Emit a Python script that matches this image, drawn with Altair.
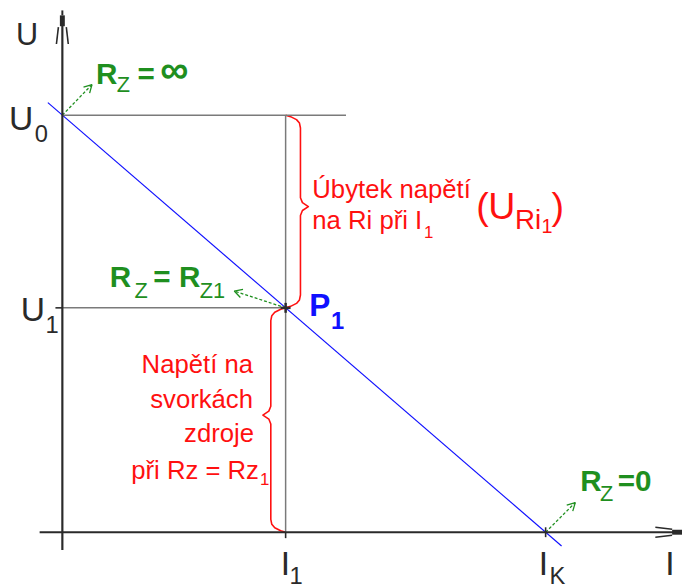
import math
import altair as alt
import pandas as pd

# ---- values (arbitrary units) ----
current_names = ["I1", "IK"]
current_values = [4.62, 10.0]
voltage_names = ["U0", "U1"]
voltage_values = [10.0, 5.38]
load_line_I = [-0.3, 10.33]
load_line_U = [10.3, -0.33]

I1, IK = current_values
U0, U1 = voltage_values

W, H = 683, 580
PXX, PXY = 48.9, 42.2          # screen pixels per unit of I / U
OX, OY = 55, 527               # origin position inside the plot area
xs = alt.Scale(domain=[-OX / PXX, (W - OX) / PXX], nice=False, zero=False)
ys = alt.Scale(domain=[-(H - OY) / PXY, OY / PXY], nice=False, zero=False)
FONT = "Liberation Sans"

GREEN = "#1f8f1f"
RED = "#ff1010"
BLUE = "#1010ff"
GRAY = "#7a7a7a"
BLACK = "#2a2a2a"


def off(i, u, dx=0.0, dy=0.0):
    """data point shifted by dx (right) / dy (down) screen pixels"""
    return (i + dx / PXX, u - dy / PXY)


segs = []


def seg(p, q, color, w):
    segs.append(dict(x=p[0], y=p[1], x2=q[0], y2=q[1], c=color, w=w))


# helper lines
seg((0, U0), off(0, U0, 287, 0), GRAY, 1.5)
seg((0, U1), (I1, U1), GRAY, 1.5)
seg((I1, 0), (I1, U0), GRAY, 1.5)

# axes with arrows
seg(off(0, 0, -23, 0), off(0, 0, 618, 0), BLACK, 2.2)
seg(off(0, 0, 0, 18), off(0, 0, 0, -513), BLACK, 2.2)
seg(off(0, 0, 0, -512), off(0, 0, 0, -523), BLACK, 5)
seg(off(0, 0, 0, -523), off(0, 0, 0, -528), BLACK, 2)
seg(off(0, 0, -4, -511), off(0, 0, -6, -494), BLACK, 1.6)
seg(off(0, 0, 4, -511), off(0, 0, 6, -494), BLACK, 1.6)
seg(off(0, 0, 617, 0), off(0, 0, 627, 0), BLACK, 5)
seg(off(0, 0, 617, -3), off(0, 0, 600, -5), BLACK, 1.6)
seg(off(0, 0, 617, 3), off(0, 0, 600, 5), BLACK, 1.6)

# ticks / points
seg(off(0, U1, -7, 0), (0, U1), BLACK, 1.6)
seg((I1, 0), off(I1, 0, 0, 6), BLACK, 1.6)
seg(off(IK, 0, 0, -5), off(IK, 0, 0, 5), BLACK, 1.6)
seg(off(I1, U1, -5, 0), off(I1, U1, 5, 0), BLACK, 2.5)
seg(off(I1, U1, 0, -5), off(I1, U1, 0, 5), BLACK, 2.5)

# green load arrows
arrows = [((0, U0), 30, -31), ((I1, U1), -52, -17), ((IK, 0), 30, -30)]
dashed = []
for (i, u), dx, dy in arrows:
    tip = off(i, u, dx, dy)
    dashed.append(dict(x=i, y=u, x2=tip[0], y2=tip[1]))
    L = math.hypot(dx, dy)
    bx, by = -dx / L, -dy / L
    for a in (0.5, -0.5):
        rx = bx * math.cos(a) - by * math.sin(a)
        ry = bx * math.sin(a) + by * math.cos(a)
        seg(tip, off(i, u, dx + 9 * rx, dy + 9 * ry), GREEN, 1.3)

seg_df = pd.DataFrame(segs)
dash_df = pd.DataFrame(dashed)


# braces
def brace(i, u_top, u_bot, s, name):
    h = (u_top - u_bot) * PXY
    m = h / 2 - 5
    prof = [(0, 0), (5, 1.5), (11, 4.5), (14, 8), (15, 13), (15, m - 9), (17, m - 4),
            (23, m), (17, m + 4), (15, m + 9), (15, h - 13), (14, h - 8), (11, h - 4.5),
            (5, h - 1.5), (0, h)]
    rows = []
    for k, (px, py) in enumerate(prof):
        p = off(i, u_top, s * px, py)
        rows.append(dict(x=p[0], y=p[1], g=name, o=k))
    return rows


brace_df = pd.DataFrame(brace(I1, U0, U1, 1, "upper") + brace(I1, U1, 0, -1, "lower"))
line_df = pd.DataFrame(dict(I=load_line_I, U=load_line_U))

# texts: (anchor, text, size, color, weight, align)
texts = []


def txt(p, t, size, color, weight="normal", align="left"):
    texts.append(dict(x=p[0], y=p[1], t=t, s=size, c=color, wt=weight, al=align))


# axis labels
txt(off(0, 0, -47, -493), "U", 31, BLACK)
txt(off(0, U0, -54, 15), "U", 34, BLACK)
txt(off(0, U0, -28, 27), "0", 24, BLACK)
txt(off(0, U1, -42, 13), "U", 34, BLACK)
txt(off(0, U1, -17, 25), "1", 24, BLACK)
txt(off(I1, 0, -5, 43), "I", 34, BLACK)
txt(off(I1, 0, 4, 52), "1", 24, BLACK)
txt(off(IK, 0, -7, 43), "I", 34, BLACK)
txt(off(IK, 0, 4, 52), "K", 24, BLACK)
txt(off(0, 0, 610, 43), "I", 34, BLACK)

# green load labels
txt(off(0, U0, 34, -32), "R", 30, GREEN, "bold")
txt(off(0, U0, 55, -23), "Z", 22, GREEN)
txt(off(0, U0, 76, -32), "=", 30, GREEN, "bold")
txt(off(0, U0, 99, -33), "∞", 40, GREEN, "bold")
txt(off(I1, U1, -178, -21), "R", 30, GREEN, "bold")
txt(off(I1, U1, -153, -10), "Z", 22, GREEN)
txt(off(I1, U1, -134, -21), "=", 30, GREEN, "bold")
txt(off(I1, U1, -108, -21), "R", 30, GREEN, "bold")
txt(off(I1, U1, -87, -10), "Z1", 22, GREEN)
txt(off(IK, 0, 35, -42), "R", 30, GREEN, "bold")
txt(off(IK, 0, 55, -32), "Z", 22, GREEN)
txt(off(IK, 0, 73, -42), "=0", 30, GREEN, "bold")

# operating point
txt(off(I1, U1, 24, 8), "P", 32, BLUE, "bold")
txt(off(I1, U1, 46, 21), "1", 24, BLUE, "bold")

# voltage drop on Ri
txt(off(I1, U0, 27, 84), "Úbytek napětí", 26, RED)
txt(off(I1, U0, 27, 115), "na Ri při I", 26, RED)
txt(off(I1, U0, 140, 124), "1", 17, RED)
txt(off(I1, U0, 193, 105), "(", 38, RED)
txt(off(I1, U0, 205, 105), "U", 38, RED)
txt(off(I1, U0, 232, 115), "Ri", 28, RED)
txt(off(I1, U0, 259, 119), "1", 20, RED)
txt(off(I1, U0, 269, 105), ")", 38, RED)

# terminal voltage
txt(off(I1, U1, -33, 66), "Napětí na", 26, RED, align="right")
txt(off(I1, U1, -33, 101), "svorkách", 26, RED, align="right")
txt(off(I1, U1, -32, 136), "zdroje", 26, RED, align="right")
txt(off(I1, U1, -27, 173), "při Rz = Rz", 26, RED, align="right")
txt(off(I1, U1, -26, 179), "1", 17, RED)

text_df = pd.DataFrame(texts)

X = lambda f: alt.X(f, type="quantitative", scale=xs, axis=None)
Y = lambda f: alt.Y(f, type="quantitative", scale=ys, axis=None)

layers = []
layers.append(
    alt.Chart(line_df).mark_line(color=BLUE, strokeWidth=1.2).encode(x=X("I"), y=Y("U"))
)
layers.append(
    alt.Chart(brace_df).mark_line(color=RED, strokeWidth=1.6, strokeJoin="round").encode(
        x=X("x"), y=Y("y"), detail="g:N", order="o:Q"
    )
)
layers.append(
    alt.Chart(dash_df).mark_rule(color=GREEN, strokeWidth=1.3, strokeDash=[3, 2]).encode(
        x=X("x"), y=Y("y"), x2="x2", y2="y2"
    )
)
layers.append(
    alt.Chart(seg_df).mark_rule().encode(
        x=X("x"), y=Y("y"), x2="x2", y2="y2",
        color=alt.Color("c:N", scale=None),
        strokeWidth=alt.StrokeWidth("w:Q", scale=None),
    )
)
for (wt, al), grp in text_df.groupby(["wt", "al"]):
    layers.append(
        alt.Chart(grp).mark_text(font=FONT, fontWeight=wt, align=al, baseline="alphabetic").encode(
            x=X("x"), y=Y("y"), text="t:N",
            size=alt.Size("s:Q", scale=None),
            color=alt.Color("c:N", scale=None),
        )
    )

chart = (
    alt.layer(*layers)
    .properties(width=W, height=H, padding=0, autosize=alt.AutoSizeParams(type="none"),
                background="white")
    .configure_view(stroke=None)
)
chart.save("out.html", embed_options={"renderer": "svg", "actions": False})
